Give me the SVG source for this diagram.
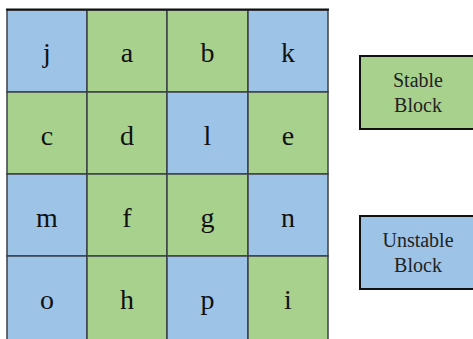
<svg xmlns="http://www.w3.org/2000/svg" width="473" height="339" viewBox="0 0 473 339">
<style>
.s{fill:#A9D18E}
.u{fill:#9DC3E6}
.c{stroke:#3c4048;stroke-width:1.5}
.t{font-family:"Liberation Serif","Times New Roman",serif;font-size:28px;fill:#111;text-anchor:middle}
.lb{font-family:"Liberation Serif","Times New Roman",serif;font-size:20px;fill:#222;text-anchor:middle}
.box{stroke:#111;stroke-width:2}
</style>
<rect width="473" height="339" fill="#fff"/>
<g id="grid">
<g id="cell-j"><rect class="u c" x="7" y="10" width="80" height="82"/><text class="t" x="47" y="62">j</text></g>
<g id="cell-a"><rect class="s c" x="87" y="10" width="80" height="82"/><text class="t" x="127" y="62">a</text></g>
<g id="cell-b"><rect class="s c" x="167" y="10" width="81" height="82"/><text class="t" x="207.5" y="62">b</text></g>
<g id="cell-k"><rect class="u c" x="248" y="10" width="80" height="82"/><text class="t" x="288" y="62">k</text></g>

<g id="cell-c"><rect class="s c" x="7" y="92" width="80" height="82"/><text class="t" x="47" y="145">c</text></g>
<g id="cell-d"><rect class="s c" x="87" y="92" width="80" height="82"/><text class="t" x="127" y="145">d</text></g>
<g id="cell-l"><rect class="u c" x="167" y="92" width="81" height="82"/><text class="t" x="207.5" y="145">l</text></g>
<g id="cell-e"><rect class="s c" x="248" y="92" width="80" height="82"/><text class="t" x="288" y="145">e</text></g>

<g id="cell-m"><rect class="u c" x="7" y="174" width="80" height="82"/><text class="t" x="47" y="227">m</text></g>
<g id="cell-f"><rect class="s c" x="87" y="174" width="80" height="82"/><text class="t" x="127" y="227">f</text></g>
<g id="cell-g"><rect class="s c" x="167" y="174" width="81" height="82"/><text class="t" x="207.5" y="227">g</text></g>
<g id="cell-n"><rect class="u c" x="248" y="174" width="80" height="82"/><text class="t" x="288" y="227">n</text></g>

<g id="cell-o"><rect class="u c" x="7" y="256" width="80" height="90"/><text class="t" x="47" y="309">o</text></g>
<g id="cell-h"><rect class="s c" x="87" y="256" width="80" height="90"/><text class="t" x="127" y="309">h</text></g>
<g id="cell-p"><rect class="u c" x="167" y="256" width="81" height="90"/><text class="t" x="207.5" y="309">p</text></g>
<g id="cell-i"><rect class="s c" x="248" y="256" width="80" height="90"/><text class="t" x="288" y="309">i</text></g>
<line x1="6" y1="9.5" x2="329" y2="9.5" stroke="#111" stroke-width="2"/>
</g>
<g id="legend-stable"><rect class="s box" x="360" y="56" width="130" height="73"/><text class="lb" x="418" y="87">Stable</text><text class="lb" x="418" y="112">Block</text></g>
<g id="legend-unstable"><rect class="u box" x="360" y="216" width="130" height="73"/><text class="lb" x="418" y="247">Unstable</text><text class="lb" x="418" y="272">Block</text></g>
<g id="connectors"></g>
</svg>
